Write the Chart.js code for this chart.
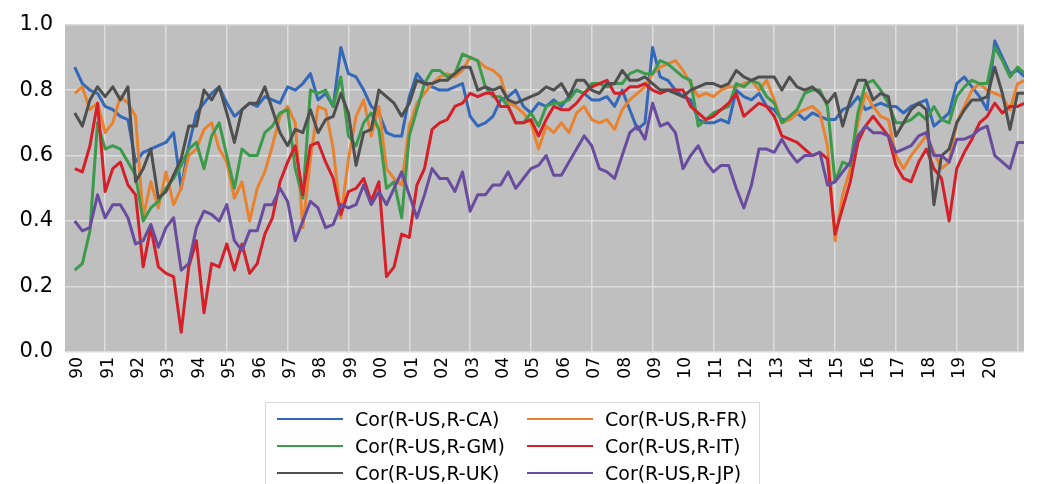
<!DOCTYPE html>
<html>
<head>
<meta charset="utf-8">
<script src="https://cdn.jsdelivr.net/npm/chart.js@4"></script>
<style>
  html, body { margin: 0; padding: 0; background: #ffffff; }
  #wrap { position: relative; width: 1043px; height: 484px; overflow: hidden; }
  #legend {
    position: absolute; left: 265px; top: 402px; width: 495px; height: 100px;
    box-sizing: border-box; border: 1px solid #d9d9d9; padding: 2px 0 0 11px;
    display: grid; grid-template-columns: 250px 232px; grid-auto-rows: 27px;
    font-family: 'DejaVu Sans', sans-serif; font-size: 19px; color: #000;
  }
  .item { display: flex; align-items: center; white-space: nowrap; }
  .swatch { display: inline-block; flex: 0 0 66px; width: 66px; height: 2px; margin-right: 12px; }
</style>
</head>
<body>
<div id="wrap">
  <canvas id="c" width="1043" height="484"></canvas>
  <div id="legend"></div>
</div>
<script>
// ---- data (quarterly, 1990Q1 .. 2021Q2) ----
const seriesNames = ['Cor(R-US,R-CA)', 'Cor(R-US,R-FR)', 'Cor(R-US,R-GM)', 'Cor(R-US,R-IT)', 'Cor(R-US,R-UK)', 'Cor(R-US,R-JP)'];
const tickLabels = ['90','91','92','93','94','95','96','97','98','99','00','01','02','03','04','05','06','07','08','09','10','11','12','13','14','15','16','17','18','19','20'];
const tickYears = [1990,1991,1992,1993,1994,1995,1996,1997,1998,1999,2000,2001,2002,2003,2004,2005,2006,2007,2008,2009,2010,2011,2012,2013,2014,2015,2016,2017,2018,2019,2020,2021];

const caVals = [
0.87,0.82,0.80,0.79, 0.75,0.74,0.72,0.71, 0.58,0.61,0.62,0.63, 0.64,0.67,0.50,0.63, 0.73,0.76,0.79,0.81,
0.76,0.72,0.74,0.76, 0.75,0.78,0.77,0.76, 0.81,0.80,0.82,0.85, 0.77,0.79,0.75,0.93, 0.85,0.84,0.80,0.75,
0.73,0.67,0.66,0.66, 0.78,0.85,0.82,0.81, 0.80,0.80,0.81,0.82, 0.72,0.69,0.70,0.72, 0.77,0.78,0.80,0.75,
0.73,0.76,0.75,0.77, 0.75,0.78,0.80,0.79, 0.77,0.77,0.78,0.75, 0.80,0.74,0.68,0.70, 0.93,0.84,0.83,0.80,
0.78,0.77,0.71,0.70, 0.70,0.71,0.70,0.80, 0.78,0.77,0.79,0.75, 0.74,0.71,0.71,0.73, 0.71,0.73,0.72,0.71,
0.71,0.74,0.75,0.78, 0.74,0.75,0.76,0.75, 0.75,0.73,0.75,0.76, 0.77,0.69,0.71,0.73, 0.82,0.84,0.81,0.78,
0.74,0.95,0.90,0.85, 0.86,0.84];

const frVals = [
0.79,0.81,0.74,0.76, 0.67,0.70,0.78,0.76, 0.72,0.41,0.52,0.44, 0.55,0.45,0.50,0.60, 0.62,0.68,0.70,0.62,
0.58,0.47,0.52,0.40, 0.50,0.55,0.63,0.72, 0.75,0.70,0.38,0.59, 0.75,0.74,0.62,0.41, 0.59,0.72,0.77,0.66,
0.75,0.56,0.53,0.51, 0.69,0.76,0.79,0.82, 0.84,0.85,0.84,0.86, 0.90,0.89,0.87,0.86, 0.84,0.76,0.75,0.73,
0.70,0.62,0.69,0.67, 0.70,0.67,0.73,0.75, 0.71,0.70,0.71,0.68, 0.74,0.77,0.79,0.81, 0.85,0.87,0.88,0.89,
0.86,0.82,0.78,0.79, 0.78,0.80,0.81,0.81, 0.82,0.83,0.80,0.83, 0.77,0.70,0.71,0.73, 0.74,0.75,0.73,0.63,
0.34,0.48,0.56,0.70, 0.79,0.75,0.72,0.71, 0.60,0.56,0.60,0.63, 0.66,0.61,0.56,0.58, 0.70,0.75,0.80,0.82,
0.80,0.79,0.78,0.74, 0.82,0.83];

const gmVals = [
0.25,0.27,0.37,0.70, 0.62,0.63,0.62,0.58, 0.54,0.40,0.44,0.46, 0.50,0.53,0.57,0.62, 0.64,0.56,0.66,0.70,
0.60,0.50,0.62,0.60, 0.60,0.67,0.69,0.73, 0.74,0.56,0.47,0.80, 0.79,0.80,0.75,0.84, 0.66,0.63,0.70,0.73,
0.68,0.50,0.52,0.41, 0.66,0.74,0.82,0.86, 0.86,0.84,0.85,0.91, 0.90,0.89,0.81,0.78, 0.78,0.75,0.70,0.70,
0.73,0.69,0.75,0.76, 0.76,0.77,0.80,0.79, 0.82,0.82,0.81,0.82, 0.82,0.85,0.86,0.85, 0.85,0.89,0.88,0.86,
0.84,0.83,0.69,0.71, 0.73,0.74,0.75,0.82, 0.81,0.83,0.82,0.78, 0.76,0.70,0.72,0.74, 0.79,0.80,0.80,0.75,
0.52,0.58,0.57,0.73, 0.82,0.83,0.80,0.76, 0.70,0.70,0.71,0.73, 0.71,0.75,0.71,0.70, 0.78,0.81,0.83,0.82,
0.82,0.93,0.89,0.84, 0.87,0.85];

const itVals = [
0.56,0.55,0.63,0.76, 0.49,0.56,0.58,0.51, 0.48,0.26,0.38,0.26, 0.24,0.23,0.06,0.26, 0.34,0.12,0.27,0.26,
0.33,0.25,0.33,0.24, 0.27,0.36,0.41,0.52, 0.58,0.63,0.48,0.63, 0.64,0.58,0.53,0.42, 0.49,0.50,0.53,0.46,
0.52,0.23,0.26,0.36, 0.35,0.51,0.56,0.68, 0.70,0.71,0.75,0.76, 0.79,0.78,0.79,0.79, 0.75,0.75,0.70,0.70,
0.71,0.66,0.71,0.75, 0.74,0.74,0.76,0.79, 0.81,0.82,0.83,0.79, 0.79,0.81,0.81,0.82, 0.80,0.79,0.80,0.80,
0.80,0.75,0.73,0.71, 0.72,0.74,0.76,0.79, 0.72,0.74,0.76,0.75, 0.72,0.66,0.65,0.64, 0.62,0.60,0.61,0.59,
0.36,0.44,0.52,0.64, 0.69,0.72,0.69,0.66, 0.57,0.53,0.52,0.58, 0.62,0.56,0.53,0.40, 0.56,0.61,0.65,0.70,
0.72,0.76,0.73,0.75, 0.75,0.76];

const ukVals = [
0.73,0.69,0.77,0.81, 0.78,0.81,0.77,0.81, 0.52,0.56,0.62,0.47, 0.49,0.54,0.59,0.69, 0.69,0.80,0.77,0.81,
0.73,0.64,0.74,0.76, 0.76,0.81,0.74,0.67, 0.63,0.68,0.67,0.74, 0.67,0.71,0.72,0.79, 0.73,0.57,0.67,0.68,
0.80,0.78,0.76,0.72, 0.76,0.83,0.82,0.82, 0.83,0.83,0.85,0.87, 0.87,0.80,0.81,0.80, 0.81,0.77,0.76,0.77,
0.78,0.79,0.81,0.80, 0.82,0.78,0.83,0.83, 0.80,0.79,0.82,0.82, 0.86,0.83,0.83,0.84, 0.82,0.80,0.80,0.79,
0.78,0.80,0.81,0.82, 0.82,0.81,0.82,0.86, 0.84,0.83,0.84,0.84, 0.84,0.80,0.84,0.81, 0.80,0.81,0.79,0.76,
0.79,0.69,0.77,0.83, 0.83,0.77,0.79,0.78, 0.66,0.70,0.74,0.76, 0.74,0.45,0.60,0.62, 0.70,0.74,0.77,0.77,
0.78,0.87,0.79,0.68, 0.79,0.79];

const jpVals = [
0.40,0.37,0.38,0.48, 0.41,0.45,0.45,0.41, 0.33,0.34,0.39,0.32, 0.38,0.41,0.25,0.27, 0.38,0.43,0.42,0.40,
0.45,0.34,0.31,0.37, 0.37,0.45,0.45,0.50, 0.46,0.34,0.40,0.46, 0.44,0.38,0.39,0.45, 0.44,0.45,0.51,0.45,
0.49,0.45,0.50,0.55, 0.48,0.41,0.48,0.56, 0.53,0.53,0.49,0.55, 0.43,0.48,0.48,0.51, 0.51,0.55,0.50,0.53,
0.56,0.57,0.60,0.54, 0.54,0.58,0.62,0.66, 0.63,0.56,0.55,0.53, 0.60,0.67,0.69,0.65, 0.76,0.69,0.70,0.67,
0.56,0.60,0.63,0.58, 0.55,0.57,0.57,0.50, 0.44,0.51,0.62,0.62, 0.61,0.65,0.61,0.58, 0.60,0.60,0.61,0.51,
0.52,0.55,0.58,0.66, 0.69,0.67,0.67,0.66, 0.61,0.62,0.63,0.66, 0.67,0.60,0.60,0.58, 0.65,0.65,0.66,0.68,
0.69,0.60,0.58,0.56, 0.64,0.64];

// quarter positions (decimal years) for the categories above
const quarters = [];
for (let i = 0; i < caVals.length; i++) quarters.push(1990 + i * 0.25);

// ---- styles ----
const colors = ['#3468B8', '#E8822F', '#3C9A4B', '#D5202A', '#4F4F4F', '#6A4C9F'];
const allVals = [caVals, frVals, gmVals, itVals, ukVals, jpVals];

const datasets = allVals.map((vals, k) => ({
  label: seriesNames[k],
  data: vals.map((v, i) => ({ x: quarters[i], y: v })),
  borderColor: colors[k],
  backgroundColor: colors[k],
  borderWidth: 3,
  pointRadius: 0,
  tension: 0,
  fill: false,
  borderJoinStyle: 'round',
  order: 6 - k
}));

const plotBg = {
  id: 'plotBg',
  beforeDraw(chart) {
    const { ctx, chartArea: a } = chart;
    ctx.save();
    ctx.fillStyle = '#BFBFBF';
    ctx.fillRect(a.left, a.top, a.right - a.left, a.bottom - a.top);
    ctx.restore();
  }
};

new Chart(document.getElementById('c'), {
  type: 'line',
  data: { datasets },
  plugins: [plotBg],
  options: {
    responsive: false,
    animation: false,
    devicePixelRatio: 1,
    layout: { padding: { top: 22, right: 6, left: 0, bottom: 0 } },
    plugins: { legend: { display: false }, tooltip: { enabled: false } },
    scales: {
      x: {
        type: 'linear',
        min: 1989.68,
        max: 2021.21,
        afterBuildTicks(scale) { scale.ticks = tickYears.map(v => ({ value: v })); },
        afterFit(scale) { scale.height = 132; },
        border: { display: false },
        grid: {
          drawTicks: false,
          lineWidth: 1.5,
          color: (c) => (c.tick && Math.round(c.tick.value) % 2 === 1) ? '#DCDCDC' : 'rgba(0,0,0,0)'
        },
        ticks: {
          autoSkip: false,
          minRotation: 90,
          maxRotation: 90,
          padding: 5,
          labelOffset: 3,
          color: '#000',
          font: { family: 'DejaVu Sans', size: 17 },
          callback: (v, i) => tickLabels[i] !== undefined ? tickLabels[i] : ''
        }
      },
      y: {
        min: 0,
        max: 1,
        afterFit(scale) { scale.width = 65; },
        border: { display: false },
        grid: { drawTicks: false, lineWidth: 1.5, color: '#DCDCDC' },
        ticks: {
          stepSize: 0.2,
          padding: 12,
          color: '#000',
          font: { family: 'DejaVu Sans', size: 21 },
          callback: (v) => Number(v).toFixed(1)
        }
      }
    }
  }
});

// HTML legend built from the datasets
const legend = document.getElementById('legend');
datasets.forEach(ds => {
  const item = document.createElement('div');
  item.className = 'item';
  const sw = document.createElement('span');
  sw.className = 'swatch';
  sw.style.background = ds.borderColor;
  const tx = document.createElement('span');
  tx.textContent = ds.label;
  item.appendChild(sw);
  item.appendChild(tx);
  legend.appendChild(item);
});
</script>
</body>
</html>
